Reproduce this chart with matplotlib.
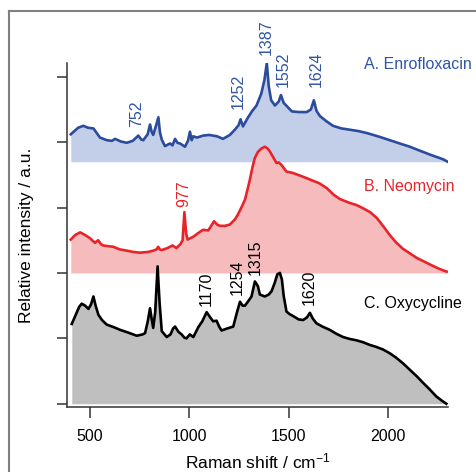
import matplotlib
matplotlib.use("Agg")
import matplotlib.pyplot as plt
from matplotlib.lines import Line2D

plt.rcParams['font.family'] = ['Liberation Sans', 'DejaVu Sans']
plt.rcParams['mathtext.fontset'] = 'custom'
plt.rcParams['mathtext.rm'] = 'Liberation Sans'
plt.rcParams['mathtext.default'] = 'regular'

# DATA

enro_x = [403, 440, 466, 490, 517, 550, 584, 610, 626, 655, 685, 715, 743, 758, 768, 790, 802, 810,
          818, 832, 844, 852, 861, 877, 903, 915, 928, 940, 953, 978, 993, 1003, 1012, 1020, 1038,
          1069, 1100, 1139, 1169, 1204, 1229, 1248, 1258, 1270, 1292, 1315, 1338, 1362, 1378, 1390,
          1400, 1412, 1431, 1450, 1461, 1475, 1491, 1516, 1550, 1591, 1612, 1627, 1640, 1657, 1690,
          1723, 1765, 1808, 1850, 1893, 1959, 2009, 2059, 2110, 2160, 2220, 2276, 2301]
enro_y = [4.12, 4.22, 4.25, 4.22, 4.21, 4.07, 4.03, 4.02, 4.05, 4.01, 3.99, 4.02, 4.10, 4.04, 4.03,
          4.12, 4.27, 4.16, 4.11, 4.25, 4.38, 4.15, 4.04, 3.94, 3.98, 3.95, 4.05, 3.99, 3.98, 3.93,
          4.02, 4.16, 4.03, 4.09, 4.07, 4.10, 4.11, 4.09, 4.05, 4.11, 4.19, 4.26, 4.35, 4.24, 4.36,
          4.47, 4.56, 4.74, 4.95, 5.21, 4.85, 4.64, 4.56, 4.62, 4.72, 4.60, 4.55, 4.47, 4.46, 4.46,
          4.50, 4.64, 4.48, 4.40, 4.32, 4.25, 4.21, 4.19, 4.17, 4.14, 4.08, 4.03, 3.98, 3.93, 3.87,
          3.80, 3.74, 3.70]

neo_x = [403, 425, 450, 475, 500, 525, 541, 555, 566, 590, 617, 650, 686, 720, 751, 790, 818, 835,
         843, 851, 861, 890, 915, 935, 955, 966, 975, 984, 991, 1018, 1045, 1069, 1095, 1110, 1124,
         1140, 1154, 1180, 1204, 1230, 1244, 1262, 1280, 1295, 1305, 1318, 1330, 1345, 1362, 1380,
         1395, 1405, 1420, 1439, 1450, 1464, 1489, 1520, 1556, 1590, 1622, 1655, 1691, 1725, 1758,
         1808, 1840, 1874, 1910, 1944, 1975, 2009, 2040, 2075, 2110, 2145, 2185, 2225, 2260, 2296]
neo_y = [2.51, 2.58, 2.62, 2.58, 2.53, 2.46, 2.50, 2.44, 2.42, 2.41, 2.40, 2.36, 2.34, 2.32, 2.31,
         2.32, 2.34, 2.36, 2.40, 2.36, 2.35, 2.38, 2.42, 2.38, 2.44, 2.50, 2.93, 2.60, 2.51, 2.55,
         2.61, 2.66, 2.65, 2.72, 2.79, 2.74, 2.72, 2.72, 2.74, 2.82, 2.89, 3.00, 3.12, 3.30, 3.43,
         3.62, 3.76, 3.85, 3.90, 3.93, 3.90, 3.86, 3.78, 3.68, 3.69, 3.65, 3.55, 3.53, 3.49, 3.45,
         3.41, 3.37, 3.30, 3.20, 3.13, 3.07, 3.04, 2.99, 2.93, 2.84, 2.72, 2.58, 2.47, 2.37, 2.30,
         2.23, 2.17, 2.11, 2.06, 2.02]

oxy_x = [408, 425, 445, 458, 475, 492, 505, 517, 528, 542, 560, 584, 620, 651, 690, 735, 765, 777,
         790, 802, 810, 818, 828, 840, 850, 861, 886, 905, 918, 928, 945, 961, 975, 986, 1002, 1020,
         1045, 1065, 1087, 1105, 1120, 1137, 1150, 1162, 1190, 1221, 1240, 1255, 1268, 1280, 1297,
         1313, 1330, 1345, 1355, 1380, 1400, 1414, 1430, 1443, 1456, 1466, 1475, 1489, 1505, 1523,
         1550, 1573, 1592, 1607, 1622, 1640, 1670, 1707, 1740, 1774, 1808, 1841, 1875, 1908, 1940,
         1975, 2010, 2043, 2075, 2110, 2145, 2177, 2210, 2244, 2270, 2294]
oxy_y = [1.22, 1.34, 1.48, 1.53, 1.50, 1.45, 1.52, 1.64, 1.50, 1.36, 1.28, 1.21, 1.17, 1.13, 1.09,
         1.04, 1.06, 1.08, 1.25, 1.46, 1.30, 1.16, 1.40, 2.10, 1.55, 1.11, 1.02, 1.06, 1.15, 1.18,
         1.10, 1.06, 1.01, 1.00, 1.06, 1.02, 1.17, 1.26, 1.40, 1.32, 1.26, 1.27, 1.18, 1.12, 1.15,
         1.18, 1.40, 1.56, 1.50, 1.50, 1.57, 1.64, 1.87, 1.80, 1.67, 1.64, 1.67, 1.72, 1.85, 1.98,
         2.00, 1.90, 1.65, 1.41, 1.37, 1.34, 1.29, 1.28, 1.32, 1.39, 1.30, 1.23, 1.18, 1.13, 1.07,
         1.02, 0.99, 0.97, 0.94, 0.90, 0.87, 0.83, 0.77, 0.70, 0.62, 0.52, 0.42, 0.32, 0.22, 0.11,
         0.05, 0.00]

baselines = [3.70, 2.00, 0.00]
names = ["A. Enrofloxacin", "B. Neomycin", "C. Oxycycline"]
name_y = [5.18, 3.32, 1.54]

enro_peaks = ["752", "1252", "1387", "1552", "1624"]
enro_peak_x = [733, 1246, 1388, 1475, 1640]
enro_peak_y = [4.23, 4.50, 5.34, 4.85, 4.84]
neo_peaks = ["977"]
neo_peak_x = [974]
neo_peak_y = [3.01]
oxy_peaks = ["1170", "1254", "1315", "1620"]
oxy_peak_x = [1087, 1240, 1330, 1603]
oxy_peak_y = [1.49, 1.66, 1.97, 1.51]

xticks = [500, 1000, 1500, 2000]

line_colors = ['#2b4c9c', '#e8242b', '#000000']
fill_colors = ['#c3cee8', '#f6bbbd', '#bfbfbf']
text_colors = ['#2f55a6', '#e8242b', '#000000']

# PLOT

fig = plt.figure(figsize=(4.76, 4.72), dpi=100)
ax = fig.add_axes([0.1408, 0.1377, 0.8002, 0.7288])

series = [(enro_x, enro_y), (neo_x, neo_y), (oxy_x, oxy_y)]
for i, (xs, ys) in enumerate(series):
    ax.fill_between(xs, baselines[i], ys, color=fill_colors[i], lw=0, zorder=1 + i)
    ax.plot(xs, ys, color=line_colors[i], lw=1.9, zorder=1.5 + i, solid_joinstyle='round')
    ax.text(1880, name_y[i], names[i], color=text_colors[i], fontsize=11.5,
            ha='left', va='center', zorder=5)

peak_sets = [(enro_peaks, enro_peak_x, enro_peak_y),
             (neo_peaks, neo_peak_x, neo_peak_y),
             (oxy_peaks, oxy_peak_x, oxy_peak_y)]
for i, (labels, px, py) in enumerate(peak_sets):
    for lab, xx, yy in zip(labels, px, py):
        ax.text(xx, yy, lab, rotation=90, ha='center', va='bottom', color=text_colors[i],
                fontsize=11.5, clip_on=False, zorder=5)

ax.set_xlim(384, 2302)
ax.set_ylim(-0.05, 5.21)
ax.set_xticks(xticks)
ax.set_yticks([0, 1, 2, 3, 4, 5])
ax.set_yticklabels([])
ax.tick_params(axis='x', length=8, width=1.1, color='#333333', labelsize=11.5, pad=8)
ax.tick_params(axis='y', length=7, width=1.1, color='#333333')
for s in ['top', 'right']:
    ax.spines[s].set_visible(False)
for s in ['left', 'bottom']:
    ax.spines[s].set_color('#333333')
    ax.spines[s].set_linewidth(1.1)

ax.set_xlabel(r'Raman shift / cm$^{-1}$', fontsize=12.5, labelpad=5)
ax.set_ylabel('Relative intensity / a.u.', fontsize=12.5, labelpad=13)

# outer frame (top and left edges only are visible)
fig.add_artist(Line2D([9 / 476, 9 / 476], [0, 1 - 11 / 472], color='#808080', lw=1.5,
                      transform=fig.transFigure))
fig.add_artist(Line2D([9 / 476, 1], [1 - 11 / 472, 1 - 11 / 472], color='#808080', lw=1.5,
                      transform=fig.transFigure))

fig.savefig("out.png", dpi=100)
